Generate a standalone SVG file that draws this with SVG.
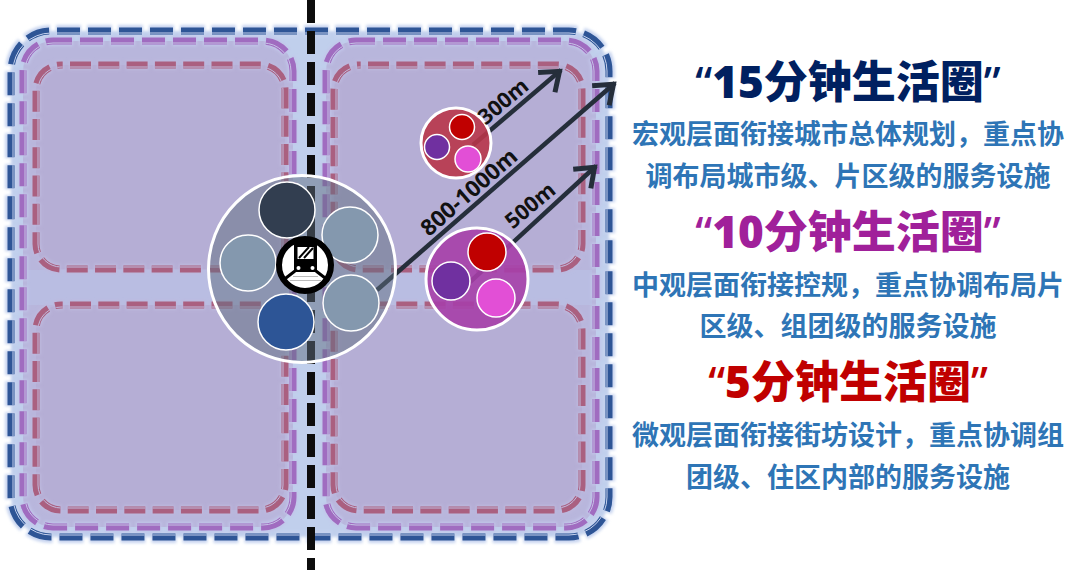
<svg xmlns="http://www.w3.org/2000/svg" width="1080" height="575" viewBox="0 0 1080 575">
<style>
.halo{fill:none;stroke:#c6d3ef;stroke-width:12}
.haloP{fill:none;stroke:#c2c6ea;stroke-width:10;stroke-dasharray:25 6}
.haloR{fill:none;stroke:#bdb9de;stroke-width:10;stroke-dasharray:23 5.3}
.blue{fill:none;stroke:#2d5596;stroke-width:7;stroke-dasharray:23 8}
.pur{fill:none;stroke:#a06cc0;stroke-width:7;stroke-dasharray:23 8}
.red{fill:none;stroke:#aa6080;stroke-width:7;stroke-dasharray:21 7.300}
.gapB{fill:none;stroke:#c6d2ee;stroke-width:1}
.gapP{fill:none;stroke:#c6c4e6;stroke-width:1}
.gapR{fill:none;stroke:#c2bcde;stroke-width:1}
.arrow{fill:none;stroke:#252e3a;stroke-width:4.500}
.ring{stroke:#fff;stroke-width:1.500}
.big{stroke:#fff;stroke-width:3}
.dist{font-family:"Open Sans","Noto Sans",sans-serif;font-weight:700;fill:#111;text-anchor:middle}
.title{font-family:"Open Sans","Noto Sans CJK SC",sans-serif;font-weight:800;font-size:44px;text-anchor:middle}
.q{font-family:"Noto Sans",sans-serif;font-weight:500}
.body{font-family:"Noto Sans CJK SC",sans-serif;font-weight:700;font-size:27px;fill:#2e75b6;text-anchor:middle}
</style>
<defs>
<filter id="soft" x="-5%" y="-5%" width="110%" height="110%"><feGaussianBlur stdDeviation="1.800"/></filter>
<filter id="tiny" x="-2%" y="-2%" width="104%" height="104%"><feGaussianBlur stdDeviation="0.400"/></filter>
<marker id="head" markerUnits="userSpaceOnUse" markerWidth="40" markerHeight="40" refX="0" refY="0" orient="auto" overflow="visible"><path d="M-19,-13 L-2,0 L-19,13" fill="none" stroke="#252e3a" stroke-width="5"/></marker>
<mask id="dashes" maskUnits="userSpaceOnUse" x="0" y="0" width="1080" height="575">
<g stroke="#fff" stroke-width="8" fill="none">
<rect x="11" y="31" width="598" height="506" rx="40" stroke-dasharray="23 8" stroke-dashoffset="-6"/>
<rect x="23" y="41" width="270" height="486" rx="30" stroke-dasharray="23 8" stroke-dashoffset="4"/>
<rect x="326" y="41" width="270" height="486" rx="30" stroke-dasharray="23 8" stroke-dashoffset="4"/>
<rect x="36" y="65" width="249" height="204" rx="25" stroke-dasharray="21 7.300" stroke-dashoffset="-9"/>
<rect x="334" y="65" width="248" height="204" rx="25" stroke-dasharray="21 7.300" stroke-dashoffset="-9"/>
<rect x="36" y="305" width="249" height="205" rx="25" stroke-dasharray="21 7.300" stroke-dashoffset="-9"/>
<rect x="334" y="305" width="248" height="205" rx="25" stroke-dasharray="21 7.300" stroke-dashoffset="-9"/>
</g>
</mask>
</defs>
<rect width="1080" height="575" fill="#fff"/>
<g id="district-frame">
<g filter="url(#soft)"><rect x="11" y="31" width="598" height="506" rx="40" fill="#c0cfec"/><rect class="halo" x="11" y="31" width="598" height="506" rx="40" stroke-dasharray="25 6" stroke-dashoffset="-5"/></g>
<rect x="23" y="41" width="270" height="486" rx="30" fill="#b8b6dc"/>
<rect x="326" y="41" width="270" height="486" rx="30" fill="#b8b6dc"/>
<rect x="27" y="270" width="266" height="35" fill="#b9bde2"/>
<rect x="326" y="270" width="266" height="35" fill="#b9bde2"/>
<rect x="36" y="65" width="249" height="204" rx="25" fill="#b5aed5"/>
<rect x="334" y="65" width="248" height="204" rx="25" fill="#b5aed5"/>
<rect x="36" y="305" width="249" height="205" rx="25" fill="#b5aed5"/>
<rect x="334" y="305" width="248" height="205" rx="25" fill="#b5aed5"/>
<g filter="url(#soft)">
<rect class="haloP" x="23" y="41" width="270" height="486" rx="30" stroke-dashoffset="5"/>
<rect class="haloP" x="326" y="41" width="270" height="486" rx="30" stroke-dashoffset="5"/>
<rect class="haloR" x="36" y="65" width="249" height="204" rx="25" stroke-dashoffset="-8"/>
<rect class="haloR" x="334" y="65" width="248" height="204" rx="25" stroke-dashoffset="-8"/>
<rect class="haloR" x="36" y="305" width="249" height="205" rx="25" stroke-dashoffset="-8"/>
<rect class="haloR" x="334" y="305" width="248" height="205" rx="25" stroke-dashoffset="-8"/>
</g>
</g>
<g id="ring-15min" filter="url(#tiny)">
<rect class="blue" x="11" y="31" width="598" height="506" rx="40" stroke-dashoffset="-6"/>
</g>
<g id="ring-10min" filter="url(#tiny)">
<rect class="pur" x="23" y="41" width="270" height="486" rx="30" stroke-dashoffset="4"/>
<rect class="pur" x="326" y="41" width="270" height="486" rx="30" stroke-dashoffset="4"/>
</g>
<g id="ring-5min" filter="url(#tiny)">
<rect class="red" x="36" y="65" width="249" height="204" rx="25" stroke-dashoffset="-9"/>
<rect class="red" x="334" y="65" width="248" height="204" rx="25" stroke-dashoffset="-9"/>
<rect class="red" x="36" y="305" width="249" height="205" rx="25" stroke-dashoffset="-9"/>
<rect class="red" x="334" y="305" width="248" height="205" rx="25" stroke-dashoffset="-9"/>
</g>
<g id="ring-inner-lines" mask="url(#dashes)">
<rect class="gapB" x="13" y="33" width="594" height="502" rx="38"/>
<rect class="gapP" x="25" y="43" width="266" height="482" rx="28"/>
<rect class="gapP" x="328" y="43" width="266" height="482" rx="28"/>
<rect class="gapR" x="38" y="67" width="245" height="200" rx="23"/>
<rect class="gapR" x="336" y="67" width="244" height="200" rx="23"/>
<rect class="gapR" x="38" y="307" width="245" height="201" rx="23"/>
<rect class="gapR" x="336" y="307" width="244" height="201" rx="23"/>
</g>
<g id="connectors">
<line x1="311" y1="0" x2="311" y2="570" stroke="#0d0d0d" stroke-width="8" stroke-dasharray="23 8"/>
<line class="arrow" x1="377" y1="290" x2="615" y2="83" marker-end="url(#head)"/>
<line class="arrow" x1="473" y1="145" x2="561" y2="70" marker-end="url(#head)"/>
<line class="arrow" x1="470" y1="282" x2="596" y2="166" marker-end="url(#head)"/>
</g>
<g id="hub">
<circle cx="302" cy="269" r="93.500" fill="#606d80" fill-opacity=".5" class="big"/>
<circle cx="287" cy="210" r="28" fill="#323e50" class="ring"/>
<circle cx="350" cy="235" r="28" fill="#8498ae" class="ring"/>
<circle cx="248" cy="263" r="28" fill="#8498ae" class="ring"/>
<circle cx="351" cy="303" r="28" fill="#8498ae" class="ring"/>
<circle cx="286" cy="322" r="28" fill="#2d5596" class="ring"/>
</g>
<g id="metro-icon">
<circle cx="305" cy="265" r="26" fill="#fff" stroke="#000" stroke-width="6"/>
<path d="M296,242H315Q317,242 317,245V272H294V245Q294,242 296,242Z" fill="#000"/>
<rect x="297.500" y="247" width="16" height="12" fill="#fff"/>
<path d="M299,258L309,247M304,258L313,248" stroke="#000" stroke-width="2" fill="none"/>
<circle cx="298.500" cy="268" r="2" fill="#fff"/><circle cx="312.500" cy="268" r="2" fill="#fff"/>
<path d="M295,271L282,281M316,271L329,281" stroke="#000" stroke-width="3" fill="none"/>
<path d="M293,276.500H318M290,280.500H321" stroke="#bbb" stroke-width="1" fill="none"/>
</g>
<g id="community-small">
<circle cx="456" cy="143" r="35" fill="#b8364a" fill-opacity=".9" class="big"/>
<circle cx="462" cy="127" r="12.500" fill="#c00000" class="ring"/>
<circle cx="437" cy="147" r="12.500" fill="#7030a0" class="ring"/>
<circle cx="468" cy="159" r="13" fill="#e24fd6" class="ring"/>
</g>
<g id="community-medium">
<circle cx="477" cy="279" r="51" fill="#a63fa8" fill-opacity=".9" class="big"/>
<circle cx="487" cy="252" r="19" fill="#c00000" class="ring"/>
<circle cx="451" cy="281" r="19" fill="#7030a0" class="ring"/>
<circle cx="496" cy="298" r="19" fill="#e24fd6" class="ring"/>
</g>
<g id="distance-labels">
<text class="dist" font-size="21.500" transform="translate(508,107) rotate(-40)">300m</text>
<text class="dist" font-size="22.500" transform="translate(474,198) rotate(-41)">800-1000m</text>
<text class="dist" font-size="21.500" transform="translate(535,211) rotate(-40)">500m</text>
</g>
<g id="legend">
<text class="title" x="848" y="98" fill="#002060"><tspan class="q">“</tspan>15分钟生活圈<tspan class="q">”</tspan></text>
<text class="body" x="848" y="144">宏观层面衔接城市总体规划，重点协</text>
<text class="body" x="848" y="186">调布局城市级、片区级的服务设施</text>
<text class="title" x="848" y="248" fill="#a0209a"><tspan class="q">“</tspan>10分钟生活圈<tspan class="q">”</tspan></text>
<text class="body" x="848" y="295">中观层面衔接控规，重点协调布局片</text>
<text class="body" x="848" y="336">区级、组团级的服务设施</text>
<text class="title" x="848" y="398" fill="#c00000"><tspan class="q">“</tspan>5分钟生活圈<tspan class="q">”</tspan></text>
<text class="body" x="848" y="445">微观层面衔接街坊设计，重点协调组</text>
<text class="body" x="848" y="487">团级、住区内部的服务设施</text>
</g>
</svg>
